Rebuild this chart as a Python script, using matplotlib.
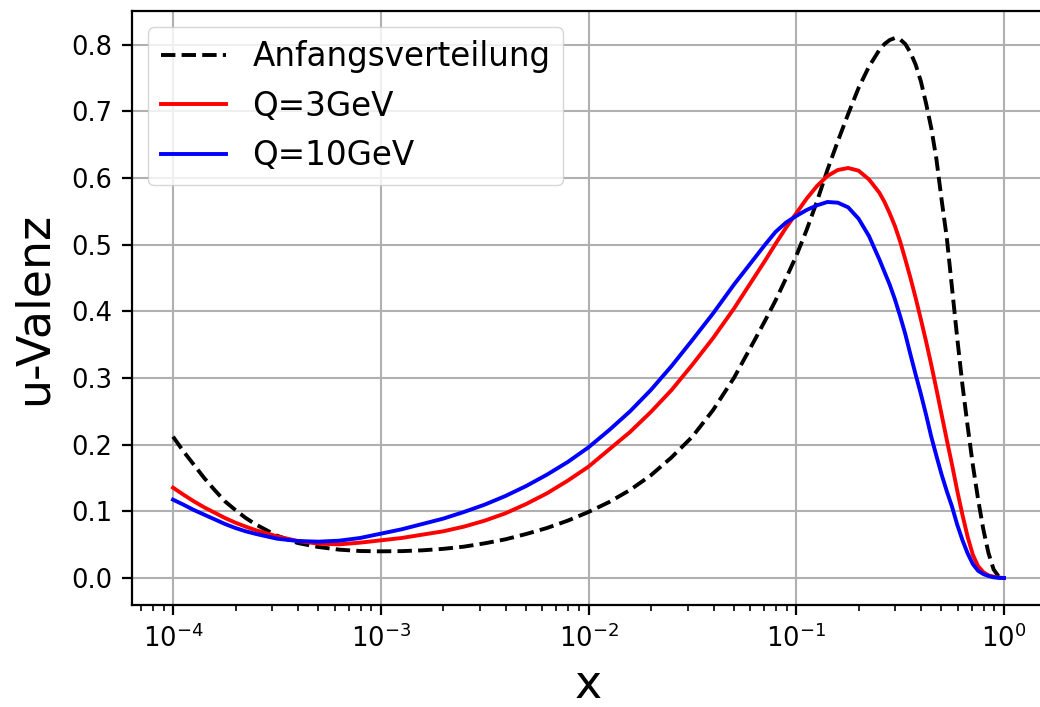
import numpy as np
import matplotlib
matplotlib.use('Agg')
import matplotlib.pyplot as plt

log_x = [-4.0, -3.95, -3.9, -3.85, -3.8, -3.75, -3.7, -3.65, -3.6,
         -3.5, -3.4, -3.3, -3.2, -3.1, -3.0,
         -2.9, -2.8, -2.7, -2.6, -2.5, -2.4, -2.3, -2.2, -2.1, -2.0,
         -1.9, -1.8, -1.7, -1.6, -1.5, -1.4, -1.3, -1.2,
         -1.15, -1.1, -1.05, -1.0,
         -0.95, -0.9, -0.85, -0.8, -0.75, -0.7, -0.65, -0.6,
         -0.575, -0.55, -0.525, -0.5, -0.475, -0.45, -0.425, -0.4,
         -0.375, -0.35, -0.325, -0.3, -0.275, -0.25, -0.225, -0.2,
         -0.175, -0.15, -0.125, -0.1, -0.075, -0.05, -0.025, 0.0]

anfang = [0.212, 0.190, 0.170, 0.150, 0.132, 0.115, 0.102, 0.090, 0.080,
          0.0635, 0.0525, 0.0465, 0.0425, 0.0405, 0.040,
          0.0403, 0.0415, 0.0437, 0.047, 0.052, 0.058, 0.066, 0.075, 0.086, 0.099,
          0.114, 0.132, 0.154, 0.181, 0.212, 0.252, 0.300, 0.357,
          0.386, 0.416, 0.449, 0.483,
          0.522, 0.565, 0.612, 0.655, 0.696, 0.735, 0.767, 0.792,
          0.801, 0.807, 0.810, 0.808, 0.801, 0.788, 0.770, 0.745,
          0.712, 0.675, 0.628, 0.567, 0.510, 0.435, 0.360, 0.290,
          0.228, 0.170, 0.119, 0.074, 0.038, 0.013, 0.002, 0.0]

q3 = [0.1355, 0.125, 0.115, 0.106, 0.098, 0.090, 0.083, 0.077, 0.0715,
      0.0625, 0.0555, 0.0515, 0.0505, 0.053, 0.0565,
      0.060, 0.065, 0.070, 0.077, 0.086, 0.097, 0.111, 0.127, 0.146, 0.167,
      0.193, 0.219, 0.249, 0.282, 0.320, 0.360, 0.404, 0.452,
      0.476, 0.501, 0.525, 0.547,
      0.569, 0.588, 0.603, 0.612, 0.615, 0.611, 0.598, 0.578,
      0.564, 0.547, 0.528, 0.505, 0.478, 0.450, 0.420, 0.388,
      0.355, 0.320, 0.283, 0.245, 0.207, 0.170, 0.131, 0.095,
      0.062, 0.035, 0.018, 0.009, 0.004, 0.002, 0.0005, 0.0]

q10 = [0.1175, 0.110, 0.102, 0.095, 0.088, 0.081, 0.075, 0.070, 0.066,
       0.059, 0.0555, 0.0545, 0.056, 0.060, 0.0665,
       0.073, 0.081, 0.089, 0.099, 0.110, 0.123, 0.138, 0.155, 0.174, 0.196,
       0.222, 0.250, 0.282, 0.318, 0.357, 0.397, 0.440, 0.480,
       0.500, 0.519, 0.533, 0.543,
       0.552, 0.559, 0.564, 0.563, 0.556, 0.539, 0.513, 0.478,
       0.459, 0.440, 0.418, 0.393, 0.366, 0.335, 0.305, 0.276,
       0.245, 0.212, 0.183, 0.155, 0.130, 0.107, 0.080, 0.057,
       0.037, 0.021, 0.011, 0.006, 0.003, 0.001, 0.0003, 0.0]

x = 10 ** np.array(log_x)

s = 2.0  # line / tick scale of the original
plt.rcParams.update({
    'axes.linewidth': 0.8 * s,
    'xtick.major.size': 3.5 * s, 'ytick.major.size': 3.5 * s,
    'xtick.minor.size': 2 * s, 'ytick.minor.size': 2 * s,
    'xtick.major.width': 0.8 * s, 'ytick.major.width': 0.8 * s,
    'xtick.minor.width': 0.6 * s, 'ytick.minor.width': 0.6 * s,
    'xtick.major.pad': 3.5 * s, 'ytick.major.pad': 3.5 * s,
    'grid.linewidth': 1.5,
    'legend.framealpha': 0.8,
})

fig = plt.figure(figsize=(10.4, 7.07), dpi=100)
ax = fig.add_axes([131.5 / 1040, 1 - 605 / 707, 914 / 1040, 594 / 707])

ax.plot(x, anfang, 'k--', lw=2.8, label='Anfangsverteilung')
ax.plot(x, q3, color='red', lw=2.8, label='Q=3GeV')
ax.plot(x, q10, color='blue', lw=2.8, label='Q=10GeV')

ax.set_xscale('log')
ax.grid(True)
ax.tick_params(labelsize=18.5)
ax.set_xlabel('x', fontsize=33, labelpad=7)
ax.set_ylabel('u-Valenz', fontsize=33, labelpad=10)
ax.legend(loc='upper left', fontsize=23.5)

fig.savefig('out.png', dpi=100)
